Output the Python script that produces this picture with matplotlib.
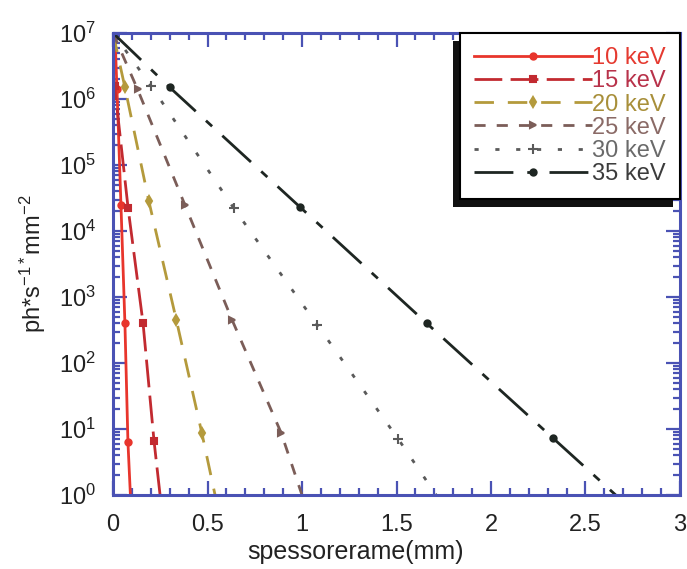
import numpy as np
import matplotlib
matplotlib.use('Agg')
import matplotlib.pyplot as plt
from matplotlib.patches import Rectangle

plt.rcParams['font.family'] = ['Liberation Sans', 'DejaVu Sans']
plt.rcParams['mathtext.fontset'] = 'custom'
plt.rcParams['mathtext.rm'] = 'Liberation Sans'
plt.rcParams['mathtext.it'] = 'Liberation Sans'
plt.rcParams['mathtext.bf'] = 'Liberation Sans:bold'

# copper thickness (mm) and photon flux for each beam energy
labels = ['10 keV', '15 keV', '20 keV', '25 keV', '30 keV', '35 keV']

x_10 = [0.01, 0.021, 0.042, 0.063, 0.079, 0.092]
y_10 = [1e7, 1.4e6, 2.5e4, 4e2, 6.3, 1]

x_15 = [0.0, 0.008, 0.08, 0.159, 0.217, 0.249]
y_15 = [2.5e6, 1.6e6, 2.2e4, 4e2, 6.6, 1]

x_20 = [0.0, 0.063, 0.19, 0.335, 0.47, 0.54]
y_20 = [1e7, 1.5e6, 2.8e4, 4.5e2, 8.7, 1]

x_25 = [0.0, 0.13, 0.38, 0.63, 0.89, 1.0]
y_25 = [1e7, 1.4e6, 2.5e4, 4.5e2, 8.7, 1]

x_30 = [0.0, 0.2, 0.64, 1.08, 1.51, 1.71]
y_30 = [1e7, 1.6e6, 2.2e4, 3.8e2, 7, 1]

x_35 = [0.0, 0.30, 0.99, 1.66, 2.33, 2.66]
y_35 = [1e7, 1.5e6, 2.3e4, 4e2, 7.2, 1]

series = [(x_10, y_10), (x_15, y_15), (x_20, y_20),
          (x_25, y_25), (x_30, y_30), (x_35, y_35)]

colors = ['#e8352c', '#c22a30', '#b49a3c', '#7b5d58', '#5a5a5a', '#1e2622']
text_colors = ['#e53a30', '#b8324a', '#a88f3a', '#8a6a66', '#6a6a6a', '#3c3c3c']
styles = ['-', (0, (10, 3)), (0, (7, 5)), (0, (4, 4)), (0, (1.5, 6)), (0, (14, 5, 3, 5))]
markers = ['o', 's', 'd', '>', '+', 'o']
msizes = [4.5, 5, 5, 5, 7, 4.5]

fig = plt.figure(figsize=(6.87, 5.69), dpi=100)
ax = fig.add_axes([0.1645, 0.130, 0.8253, 0.812])

for (xs, ys), lab, c, ls, mk, ms in zip(series, labels, colors, styles, markers, msizes):
    ax.semilogy(xs, ys, color=c, linestyle=ls, linewidth=2, marker=mk,
                markersize=ms, markevery=[1, 2, 3, 4], markeredgewidth=1.5,
                label=lab)

ax.set_xlim(0, 3)
ax.set_ylim(1, 1e7)
ax.set_xticks([0, 0.5, 1, 1.5, 2, 2.5, 3])
ax.set_xticklabels(['0', '0.5', '1', '1.5', '2', '2.5', '3'])
ax.set_xticks(np.arange(0, 3.01, 0.1), minor=True)

blue = '#4a52b4'
for s in ax.spines.values():
    s.set_color(blue)
    s.set_linewidth(2.2)
ax.tick_params(which='both', direction='in', top=True, right=True,
               color=blue, width=1.6, labelcolor='#222222', labelsize=17)
ax.tick_params(axis='x', which='major', pad=14)
ax.tick_params(axis='y', which='major', pad=12)
ax.tick_params(which='major', length=10)
ax.tick_params(which='minor', length=5)

ax.set_xlabel('spessorerame(mm)', fontsize=18, color='#222222')
ax.xaxis.set_label_coords(0.427, -0.097)
ax.set_ylabel(r'ph*s$^{-1*}$mm$^{-2}$', fontsize=17, color='#222222')
ax.yaxis.set_label_coords(-0.115, 0.5)

leg = ax.legend(loc='upper right', bbox_to_anchor=(1.0, 1.0), borderaxespad=0,
                fontsize=17, handlelength=5.0, handletextpad=0.0, labelspacing=0.05,
                numpoints=1, fancybox=False, framealpha=1, edgecolor='black',
                borderpad=0.6)
leg.get_frame().set_linewidth(1.5)
for t, c in zip(leg.get_texts(), text_colors):
    t.set_color(c)

# drop shadow on the lower left of the legend box
fig.canvas.draw()
bb = leg.get_window_extent().transformed(ax.transAxes.inverted())
dx = 7 / (ax.bbox.width)
dy = 8 / (ax.bbox.height)
ax.add_patch(Rectangle((bb.x0 - dx, bb.y0 - dy), bb.width, bb.height,
                       transform=ax.transAxes, facecolor='#111111',
                       edgecolor='none', zorder=4.9, clip_on=False))

fig.savefig('out.png', dpi=100)
